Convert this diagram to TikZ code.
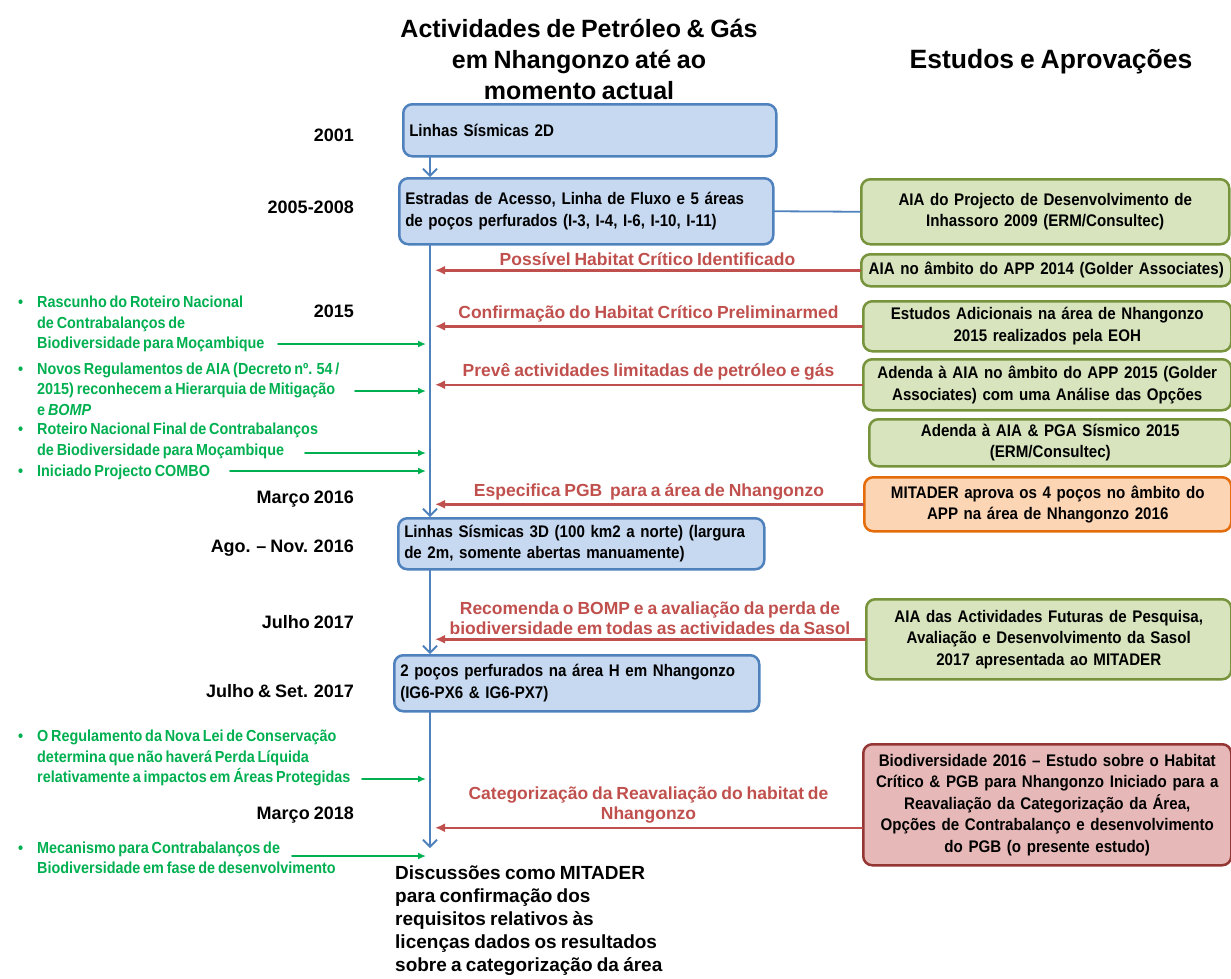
\documentclass[tikz,border=0pt]{standalone}
\usepackage{fontspec}
\setmainfont{Liberation Sans}[WordSpace=0.8]
\newfontfamily\narrowfont{Liberation Sans}[FakeStretch=0.9,WordSpace=0.85]
\newfontfamily\boxfont{Liberation Sans}[FakeStretch=0.9,WordSpace=0.7]
\usetikzlibrary{arrows.meta}
\definecolor{bluefill}{HTML}{C6D9F1}
\definecolor{blueline}{HTML}{4F81BD}
\definecolor{greenfill}{HTML}{D7E4BD}
\definecolor{greenline}{HTML}{77933C}
\definecolor{orangefill}{HTML}{FCD5B5}
\definecolor{orangeline}{HTML}{E46C0A}
\definecolor{pinkfill}{HTML}{E6B9B8}
\definecolor{pinkline}{HTML}{943634}
\definecolor{redarr}{HTML}{C0504D}
\definecolor{greentxt}{HTML}{00B050}
\begin{document}
\begin{tikzpicture}[x=1pt, y=-1pt, line join=round, line cap=round,
	bluebox/.style={draw=blueline, fill=bluefill, line width=2.5pt, rounded corners=9pt, anchor=north west, align=left, inner xsep=6pt, inner ysep=2pt, font=\boxfont\bfseries\fontsize{16.8}{21.5}\selectfont},
	rightbox/.style={line width=2.5pt, rounded corners=9pt, anchor=north west, align=center, inner xsep=2pt, inner ysep=2pt, font=\boxfont\bfseries\fontsize{16.8}{21.5}\selectfont},
	greenbox/.style={rightbox, draw=greenline, fill=greenfill},
	orangebox/.style={rightbox, draw=orangeline, fill=orangefill},
	pinkbox/.style={rightbox, draw=pinkline, fill=pinkfill},
	yearlabel/.style={anchor=east, inner sep=0pt, font=\bfseries\fontsize{18}{20}\selectfont},
	greentext/.style={anchor=west, align=left, inner sep=0pt, text=greentxt, font=\narrowfont\bfseries\fontsize{16}{20.5}\selectfont},
	redlabel/.style={align=center, inner sep=3pt, text=redarr, font=\bfseries\fontsize{17.5}{20.5}\selectfont},
	bluearrow/.style={draw=blueline, line width=1.8pt, -{Straight Barb[length=7pt,width=14pt,line width=1.8pt]}},
	redarrow/.style={draw=redarr, line width=2.5pt, -{Latex[length=10pt,width=9pt]}},
	greenarrow/.style={draw=greentxt, line width=1.6pt, -{Latex[length=8pt,width=7pt]}}]
	\useasboundingbox (0,0) rectangle (1231,978);
	% titles
	\node[align=center, font=\bfseries\fontsize{25}{31}\selectfont] (title) at (579,59) {Actividades de Petróleo \& Gás\\em Nhangonzo até ao\\momento actual};
	\node[font=\bfseries\fontsize{26.5}{31}\selectfont] (title2) at (1051,62) {Estudos e Aprovações};
	% timeline
	\coordinate (ax) at (430,0);
	\coordinate (rx) at (435,0);
	\coordinate (gx) at (426,0);
	\node[bluebox, text width=361pt, minimum height=52pt] (b1) at (402,103) {Linhas Sísmicas 2D};
	\node[bluebox, text width=362pt, minimum height=66pt] (b2) at (398,177) {Estradas de Acesso, Linha de Fluxo e 5 áreas\\de poços perfurados (I-3, I-4, I-6, I-10, I-11)};
	\node[bluebox, text width=354pt, minimum height=51pt] (b3) at (397,517) {Linhas Sísmicas 3D (100 km2 a norte) (largura\\de 2m, somente abertas manuamente)};
	\node[bluebox, text width=353pt, minimum height=56pt] (b4) at (393,654) {2 poços perfurados na área H em Nhangonzo\\(IG6-PX6 \& IG6-PX7)};
	\coordinate (axend) at (430,848);
	\draw[bluearrow] (b1.south -| ax) -- (b2.north -| ax);
	\draw[bluearrow] (b2.south -| ax) -- (b3.north -| ax);
	\draw[bluearrow] (b3.south -| ax) -- (b4.north -| ax);
	\draw[bluearrow] (b4.south -| ax) -- (axend);
	\node[anchor=north west, align=left, inner sep=0pt, font=\bfseries\fontsize{19}{23}\selectfont] (disc) at (395,866) {Discussões como MITADER\\para confirmação dos\\requisitos relativos às\\licenças dados os resultados\\sobre a categorização da área};
	% years
	\foreach \y/\t [count=\i] in {135/2001, 207/2005-2008, 311/2015, 499/Março 2016, 548/Ago. – Nov. 2016, 622/Julho 2017, 691/Julho \& Set. 2017, 815/Março 2018}
		\node[yearlabel] (year\i) at (354,\y) {\t};
	% studies and approvals
	\node[greenbox, text width=364pt, minimum height=65pt] (r1) at (860,178) {AIA do Projecto de Desenvolvimento de\\Inhassoro 2009 (ERM/Consultec)};
	\node[greenbox, text width=366pt, minimum height=32pt] (r2) at (860,253) {AIA no âmbito do APP 2014 (Golder Associates)};
	\node[greenbox, text width=364pt, minimum height=50pt] (r3) at (862,300) {Estudos Adicionais na área de Nhangonzo\\2015 realizados pela EOH};
	\node[greenbox, text width=364pt, minimum height=51pt] (r4) at (862,358) {Adenda à AIA no âmbito do APP 2015 (Golder\\Associates) com uma Análise das Opções};
	\node[greenbox, text width=358pt, minimum height=47pt] (r5) at (868,418) {Adenda à AIA \& PGA Sísmico 2015\\(ERM/Consultec)};
	\node[orangebox, text width=363pt, minimum height=54pt] (r6) at (863,476) {MITADER aprova os 4 poços no âmbito do\\APP na área de Nhangonzo 2016};
	\node[greenbox, text width=361pt, minimum height=80pt] (r7) at (865,598) {AIA das Actividades Futuras de Pesquisa,\\Avaliação e Desenvolvimento da Sasol\\2017 apresentada ao MITADER};
	\node[pinkbox, text width=364pt, minimum height=121pt] (r8) at (862,743) {Biodiversidade 2016 – Estudo sobre o Habitat\\Crítico \& PGB para Nhangonzo Iniciado para a\\Reavaliação da Categorização da Área,\\Opções de Contrabalanço e desenvolvimento\\do PGB (o presente estudo)};
	\draw[draw=blueline, line width=1.8pt] (b2.east) -- (r1.west);
	\draw[redarrow] (r2.west) -- (r2.west -| rx) node[redlabel, midway, above] (l1) {Possível Habitat Crítico Identificado};
	\draw[redarrow] (r3.west) -- (r3.west -| rx) node[redlabel, midway, above] (l2) {Confirmação do Habitat Crítico Preliminarmed};
	\draw[redarrow] (r4.west) -- (r4.west -| rx) node[redlabel, midway, above] (l3) {Prevê actividades limitadas de petróleo e gás};
	\draw[redarrow] (r6.west) -- (r6.west -| rx) node[redlabel, midway, above] (l4) {Especifica PGB\ \ para a área de Nhangonzo};
	\draw[redarrow] (r7.west) -- (r7.west -| rx) node[redlabel, midway, above] (l5) {Recomenda o BOMP e a avaliação da perda de\\biodiversidade em todas as actividades da Sasol};
	\draw[redarrow] ([yshift=-23pt]r8.west) -- ([yshift=-23pt]r8.west -| rx) node[redlabel, midway, above] (l6) {Categorização da Reavaliação do habitat de\\Nhangonzo};
	% national context
	\node[greentext] (g1) at (37,324) {\llap{\textbullet\hspace{14pt}}Rascunho do Roteiro Nacional\\de Contrabalanços de\\Biodiversidade para Moçambique};
	\node[greentext] (g2) at (37,389) {\llap{\textbullet\hspace{14pt}}Novos Regulamentos de AIA (Decreto nº. 54 /\\2015) reconhecem a Hierarquia de Mitigação\\e \textit{BOMP}};
	\node[greentext] (g3) at (37,441) {\llap{\textbullet\hspace{14pt}}Roteiro Nacional Final de Contrabalanços\\de Biodiversidade para Moçambique};
	\node[greentext] (g4) at (37,472) {\llap{\textbullet\hspace{14pt}}Iniciado Projecto COMBO};
	\node[greentext] (g5) at (37,758) {\llap{\textbullet\hspace{14pt}}O Regulamento da Nova Lei de Conservação\\determina que não haverá Perda Líquida\\relativamente a impactos em Áreas Protegidas};
	\node[greentext] (g6) at (37,858) {\llap{\textbullet\hspace{14pt}}Mecanismo para Contrabalanços de\\Biodiversidade em fase de desenvolvimento};
	\coordinate (g1s) at (278,344);
	\coordinate (g2s) at (355,391);
	\coordinate (g3s) at (305,453);
	\coordinate (g4s) at (230,471);
	\coordinate (g5s) at (362,779);
	\coordinate (g6s) at (292,856);
	\foreach \g in {g1s,g2s,g3s,g4s,g5s,g6s}
		\draw[greenarrow] (\g) -- (\g -| gx);
\end{tikzpicture}
\end{document}
